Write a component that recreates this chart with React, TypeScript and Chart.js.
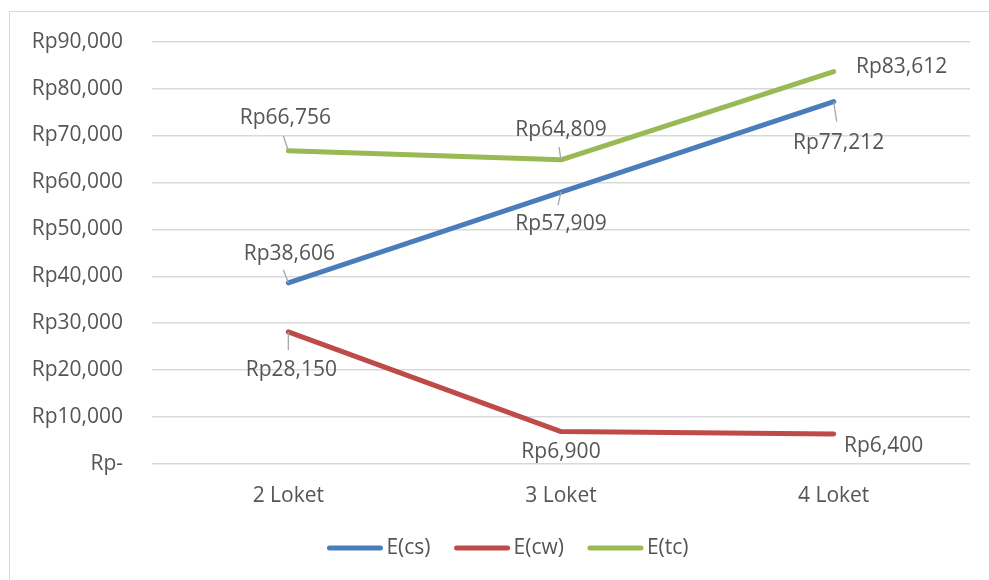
import { useEffect, useRef } from "react";
import { Chart, registerables } from "chart.js";

Chart.register(...registerables);

// ---- data ----
const categories = ["2 Loket", "3 Loket", "4 Loket"];
const seriesNames = ["E(cs)", "E(cw)", "E(tc)"];
const ecsValues = [38606, 57909, 77212];
const ecwValues = [28150, 6900, 6400];
const etcValues = [66756, 64809, 83612];
const yMin = 0;
const yMax = 90000;
const yStep = 10000;

// ---- style ----
const colors = ["#4a7ebb", "#be4b48", "#98b954"];
const textColor = "#555555";
const gridColor = "#d9d9d9";
const fontFamily = "'Open Sans', 'DejaVu Sans', sans-serif";
const fontSize = 21;

// label offsets relative to point [dx, dy], and optional leader end [lx, ly]
const labelOffsets: number[][][] = [
  [[1, -29], [0, 32], [5, 41]],
  [[3, 38], [0, 20], [50, 12]],
  [[-3, -33], [0, -30], [68, -5]],
];
const leaderEnds: (number[] | null)[][] = [
  [[-5, -13], [-3, 13], [3, 20]],
  [[0, 18], null, null],
  [[-5, -15], [-2, -13], null],
];

const fmt = (v: number) => (v === 0 ? "Rp-" : "Rp" + v.toLocaleString("en-US"));

const labelPlugin = {
  id: "dataLabels",
  afterDatasetsDraw(chart: any) {
    const ctx = chart.ctx;
    ctx.save();
    ctx.font = `${fontSize}px ${fontFamily}`;
    ctx.fillStyle = textColor;
    ctx.textAlign = "center";
    ctx.textBaseline = "middle";
    chart.data.datasets.forEach((ds: any, di: number) => {
      const meta = chart.getDatasetMeta(di);
      meta.data.forEach((pt: any, i: number) => {
        const off = labelOffsets[di][i];
        const le = leaderEnds[di][i];
        if (le) {
          ctx.save();
          ctx.strokeStyle = "#a6a6a6";
          ctx.lineWidth = 1.3;
          ctx.beginPath();
          ctx.moveTo(pt.x, pt.y);
          ctx.lineTo(pt.x + le[0], pt.y + le[1]);
          ctx.stroke();
          ctx.restore();
        }
        ctx.fillText(fmt(ds.data[i]), pt.x + off[0], pt.y + off[1]);
      });
    });
    ctx.restore();
  },
};

const legendPlugin = {
  id: "customLegend",
  afterDraw(chart: any) {
    const ctx = chart.ctx;
    ctx.save();
    ctx.font = `${fontSize}px ${fontFamily}`;
    const lineLen = 55;
    const gap = 4;
    const itemGap = 24;
    const items = chart.data.datasets.map((ds: any) => ({
      label: ds.label,
      color: ds.borderColor,
      w: ctx.measureText(ds.label).width,
    }));
    const total =
      items.reduce((s: number, it: any) => s + lineLen + gap + it.w, 0) +
      itemGap * (items.length - 1);
    let x = 508 - total / 2;
    const y = 548;
    items.forEach((it: any) => {
      ctx.strokeStyle = it.color;
      ctx.lineWidth = 5;
      ctx.lineCap = "round";
      ctx.beginPath();
      ctx.moveTo(x + 2, y);
      ctx.lineTo(x + lineLen - 2, y);
      ctx.stroke();
      ctx.fillStyle = textColor;
      ctx.textAlign = "left";
      ctx.textBaseline = "middle";
      ctx.fillText(it.label, x + lineLen + gap, y);
      x += lineLen + gap + it.w + itemGap;
    });
    ctx.restore();
  },
};

export default function App() {
  const ref = useRef<HTMLCanvasElement | null>(null);

  useEffect(() => {
    if (!ref.current) return;
    const series = [ecsValues, ecwValues, etcValues];
    const chart = new Chart(ref.current, {
      type: "line",
      data: {
        labels: categories,
        datasets: series.map((vals, i) => ({
          label: seriesNames[i],
          data: vals,
          borderColor: colors[i],
          backgroundColor: colors[i],
          borderWidth: 5,
          borderCapStyle: "round",
          borderJoinStyle: "round",
          pointRadius: 0,
          pointHoverRadius: 0,
          tension: 0,
          fill: false,
        })),
      },
      options: {
        animation: false,
        responsive: false,
        events: [],
        layout: { padding: { left: 0, right: 19, top: 40, bottom: 0 } },
        plugins: {
          legend: { display: false },
          tooltip: { enabled: false },
          title: { display: false },
        },
        scales: {
          x: {
            offset: true,
            grid: { display: false, drawTicks: false },
            border: { display: false },
            ticks: {
              color: textColor,
              font: { family: fontFamily, size: fontSize },
              padding: 19,
              maxRotation: 0,
            },
            afterFit(scale: any) {
              scale.height = 116;
            },
          },
          y: {
            min: yMin,
            max: yMax,
            grid: { color: gridColor, lineWidth: 1.5, drawTicks: false },
            border: { display: false },
            ticks: {
              stepSize: yStep,
              color: textColor,
              font: { family: fontFamily, size: fontSize },
              padding: 29,
              callback: (v: any) => fmt(Number(v)),
            },
            afterFit(scale: any) {
              scale.width = 152;
            },
          },
        },
      } as any,
      plugins: [labelPlugin, legendPlugin],
    });
    return () => chart.destroy();
  }, []);

  return (
    <div
      style={{
        position: "fixed",
        left: 0,
        top: 0,
        width: 989,
        height: 580,
        overflow: "hidden",
        background: "#ffffff",
      }}
    >
      <div
        style={{
          position: "absolute",
          left: 9,
          top: 11,
          width: 1100,
          height: 700,
          border: "1px solid #d9d9d9",
        }}
      />
      <canvas
        ref={ref}
        width={989}
        height={580}
        style={{ position: "absolute", left: 0, top: 0, width: 989, height: 580 }}
      />
    </div>
  );
}
